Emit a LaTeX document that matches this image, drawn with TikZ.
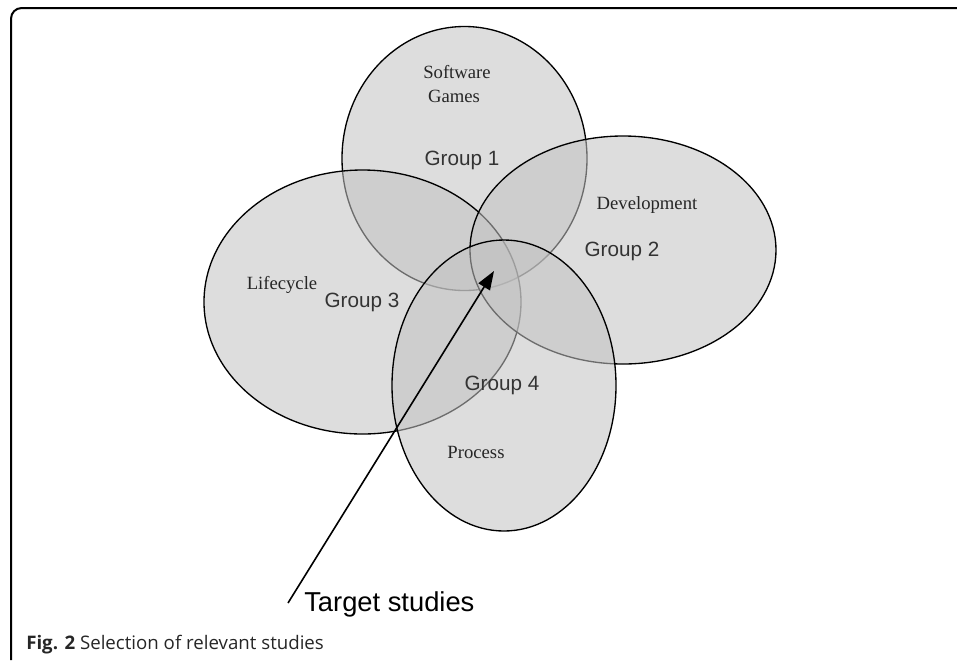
\documentclass[tikz,border=0pt]{standalone}
\usepackage{fontspec}
\setmainfont{Liberation Serif}
\newfontfamily\grpfont{Liberation Sans}
\newfontfamily\capfont{Open Sans}
\usetikzlibrary{positioning,shapes.geometric,arrows.meta}

\begin{document}
\begin{tikzpicture}[x=0.75pt, y=-0.75pt,
    >={Triangle[length=14pt,width=10pt]},
    set/.style={%
      ellipse, draw=black, line width=1pt, fill=black!24,
      fill opacity=0.56, inner sep=0pt
    },
    grp/.style={%
      inner sep=0pt, text=black!80, font=\grpfont\fontsize{15.5}{18}\selectfont
    },
    kw/.style={%
      inner sep=0pt, text=black!85, font=\fontsize{14}{16}\selectfont
    }
]
    \useasboundingbox (0,0) rectangle (957,662);
    \draw[line width=1.5pt, rounded corners=8pt] (957,8) -- (11,8) -- (11,660);

    % groups, back to front
    \node[set, minimum width=183.75pt, minimum height=198pt] (g1) at (464.5,158.5) {};
    \node[set, minimum width=237.75pt, minimum height=198pt] (g3) at (362.5,302) {};
    \node[set, minimum width=229.5pt,  minimum height=171pt] (g2) at (623,250) {};
    \node[set, minimum width=168pt,    minimum height=218.25pt] (g4) at (504,385.5) {};

    \node[kw]  (sw)   at (457,72)  {Software};
    \node[kw]  (gm)   at (454,96)  {Games};
    \node[grp] (grp1) at (462,160) {Group 1};
    \node[kw]  (dev)  at (647,205) {Development};
    \node[grp] (grp2) at (622,251) {Group 2};
    \node[kw]  (lc)   at (282,285) {Lifecycle};
    \node[grp] (grp3) at (362,302) {Group 3};
    \node[grp] (grp4) at (502,385) {Group 4};
    \node[kw]  (pr)   at (476,452) {Process};

    \node[inner sep=0pt, anchor=west, font=\grpfont\fontsize{20.5}{24}\selectfont]
        (target) at (304,604) {Target studies};
    \coordinate (foot) at (288,603);
    \coordinate (hit)  at (494,271);
    \draw[->, line width=1.2pt] (foot) -- (hit);

    \node[inner sep=0pt, anchor=west, text=black!85,
          font=\capfont\fontsize{14}{16}\selectfont]
        (cap) at (26,645) {\textbf{Fig. 2} Selection of relevant studies};

\end{tikzpicture}
\end{document}
